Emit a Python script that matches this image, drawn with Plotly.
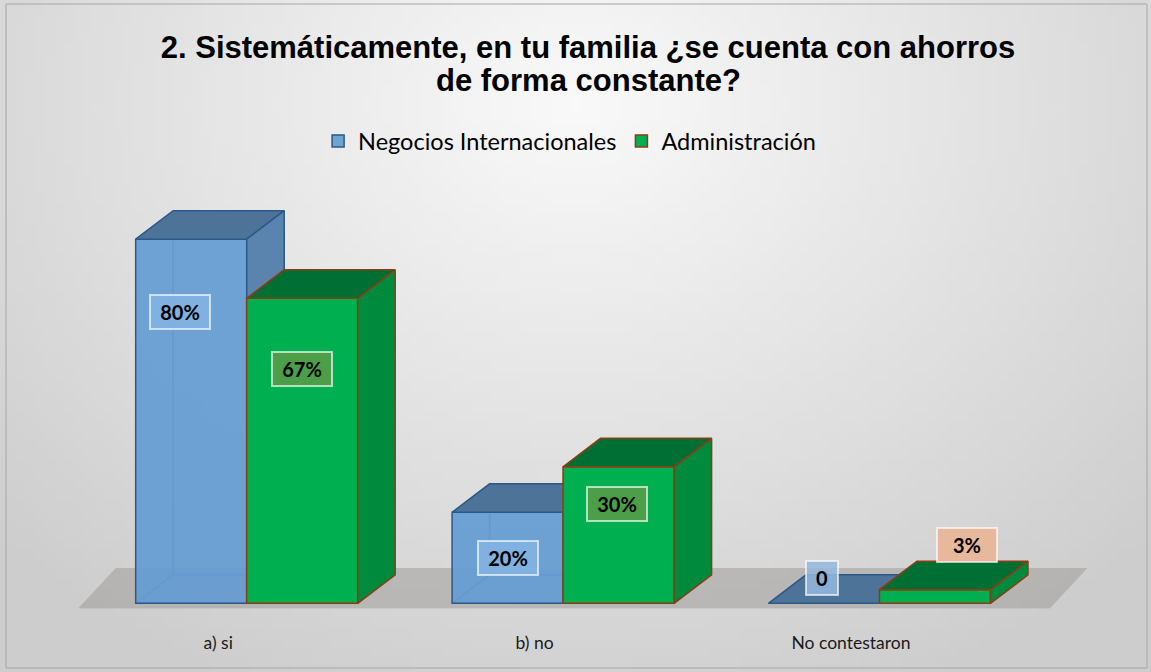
import base64, struct, zlib
import numpy as np
import plotly.graph_objects as go

# ---------------- data ----------------
categories = ["a) si", "b) no", "No contestaron"]
series_names = ["Negocios Internacionales", "Administración"]
negocios = [0.80, 0.20, 0.0]
administracion = [0.67, 0.30, 0.03]
label_text_negocios = ["80%", "20%", "0"]
label_text_admin = ["67%", "30%", "3%"]
title_line1 = "2. Sistemáticamente, en tu familia ¿se cuenta con ahorros"
title_line2 = "de forma constante?"

# ---------------- styling / geometry ----------------
BAR_W = 0.351          # front-face width (x units)
OFFSETS = [-0.0853, 0.2654]   # bar-centre offsets from category position
DX, DY = 0.1185, 0.0626       # depth vector of the 3-D look
X_RANGE = [-0.5, 2.787]
Y_RANGE = [-0.03, 0.93]
ML, MR, MT, MB = 60, 51, 180, 55
W, H = 1151, 672

blue = dict(front="rgba(100,155,210,0.92)", top="#4e7398", side="#5a84ad", edge="#2b5986")
green = dict(front="#00b050", top="#006f33", side="#008a3e", edge="#8b3d12")

# label placement: fraction of bar height (tall bars) and x shifts
lab_frac_neg = [0.80, 0.50, 0.0]
lab_frac_adm = [0.77, 0.73, 0.0]
lab_dx_neg = [-0.035, 0.0, -0.005]
lab_dx_adm = [0.0, -0.005, 0.10]
lab_bg_neg = ["rgba(130,178,226,0.9)", "rgba(130,178,226,0.9)", "rgba(150,185,222,0.85)"]
lab_bg_adm = ["rgba(80,158,72,0.95)", "rgba(80,158,72,0.95)", "rgba(232,182,152,0.95)"]


def bg_png(w=116, h=68):
    yy, xx = np.mgrid[0:h, 0:w]
    u = xx / (w - 1); v = yy / (h - 1)
    d = np.sqrt(((u - 0.5) / 0.75) ** 2 + ((v - 0.15) / 1.05) ** 2)
    c = np.clip(250 - 48 * d, 205, 250).astype(np.uint8)
    raw = b"".join(b"\x00" + bytes(np.stack([c[r], c[r], c[r]], axis=1).flatten()) for r in range(h))
    def chunk(t, data):
        return struct.pack(">I", len(data)) + t + data + struct.pack(">I", zlib.crc32(t + data) & 0xffffffff)
    png = b"\x89PNG\r\n\x1a\n" + chunk(b"IHDR", struct.pack(">IIBBBBB", w, h, 8, 2, 0, 0, 0)) \
        + chunk(b"IDAT", zlib.compress(raw, 9)) + chunk(b"IEND", b"")
    return "data:image/png;base64," + base64.b64encode(png).decode()


PW, PH = W - ML - MR, H - MT - MB
def px2paper_x(px):
    return (px - ML) / PW
def px2paper_y(py):
    return (H - MB - py) / PH


fig = go.Figure()
xs = np.arange(len(categories))


def faces(values, off, col, xa, ya):
    for i, v in enumerate(values):
        x0 = xs[i] + off - BAR_W / 2
        x1 = x0 + BAR_W
        fig.add_trace(go.Scatter(
            x=[x0, x1, x1 + DX, x0 + DX, x0], y=[v, v, v + DY, v + DY, v],
            fill="toself", fillcolor=col["top"], mode="lines",
            line=dict(color=col["edge"], width=1.5), showlegend=False,
            hoverinfo="skip", xaxis=xa, yaxis=ya))
        if v > 0:
            fig.add_trace(go.Scatter(
                x=[x1, x1 + DX, x1 + DX, x1, x1], y=[0, DY, v + DY, v, 0],
                fill="toself", fillcolor=col["side"], mode="lines",
                line=dict(color=col["edge"], width=1.5), showlegend=False,
                hoverinfo="skip", xaxis=xa, yaxis=ya))


# layer 0: hidden back edges of the translucent blue bars
for i, v in enumerate(negocios):
    if v <= 0:
        continue
    x0 = xs[i] + OFFSETS[0] - BAR_W / 2
    fig.add_trace(go.Scatter(
        x=[x0, x0 + DX, x0 + DX, None, x0 + DX, x0 + BAR_W + DX],
        y=[0, DY, v + DY, None, DY, DY], mode="lines",
        line=dict(color="rgba(60,120,190,0.9)", width=1.5),
        showlegend=False, hoverinfo="skip", xaxis="x", yaxis="y"))

# layer 1: blue bars
fig.add_trace(go.Bar(
    x=xs + OFFSETS[0], y=negocios, width=BAR_W, name=series_names[0],
    marker=dict(color=blue["front"], line=dict(color=blue["edge"], width=1.5)),
    xaxis="x2", yaxis="y2", hoverinfo="skip"))
faces(negocios, OFFSETS[0], blue, "x2", "y2")

# layer 2: green bars
fig.add_trace(go.Bar(
    x=xs + OFFSETS[1], y=administracion, width=BAR_W, name=series_names[1],
    marker=dict(color=green["front"], line=dict(color=green["edge"], width=1.5)),
    xaxis="x3", yaxis="y3", hoverinfo="skip"))
faces(administracion, OFFSETS[1], green, "x3", "y3")

# data labels
ann = []
for vals, texts, fr, ldx, bgs, off in [
    (negocios, label_text_negocios, lab_frac_neg, lab_dx_neg, lab_bg_neg, OFFSETS[0]),
    (administracion, label_text_admin, lab_frac_adm, lab_dx_adm, lab_bg_adm, OFFSETS[1])]:
    for i, v in enumerate(vals):
        if v > 0.05:
            y = v * fr[i]
        elif v > 0:
            y = v + DY + 0.035
        else:
            y = DY * 0.88
        x = xs[i] + off + ldx[i]
        wbox = 50 if len(texts[i]) > 1 else 22
        ann.append(dict(x=x, y=y, xref="x", yref="y", text="<b>%s</b>" % texts[i],
                        showarrow=False, font=dict(family="Lato", size=20, color="#000"),
                        bgcolor=bgs[i], bordercolor="rgba(255,255,255,0.65)",
                        borderwidth=2, borderpad=4, width=wbox, height=24))

# second title line
ann.append(dict(x=0.511, y=1 - 80 / H, xref="paper", yref="container" if False else "paper",
                text="<b>%s</b>" % title_line2, showarrow=False,
                font=dict(family="Liberation Sans", size=31, color="#000")))
ann[-1]["y"] = px2paper_y(80)
ann[-1]["x"] = px2paper_x(588)
ann[-1]["yanchor"] = "middle"

# floor
n = len(categories)
floor_l = -0.442
floor_r = n - 1 + 0.629
fig.add_shape(type="path", xref="x", yref="y", layer="below",
              path=f"M {floor_l},-0.011 L {floor_r},-0.011 L {floor_r + DX},{DY + 0.015} "
                   f"L {floor_l + DX},{DY + 0.015} Z",
              fillcolor="rgba(150,145,145,0.45)", line=dict(width=0))

# outer border
fig.add_shape(type="rect", xref="paper", yref="paper",
              x0=px2paper_x(6), x1=px2paper_x(1147), y0=px2paper_y(668), y1=px2paper_y(4),
              line=dict(color="#a6a6a6", width=1), layer="above")

axis_common = dict(range=X_RANGE, showgrid=False, zeroline=False, showline=False)
yaxis_common = dict(range=Y_RANGE, showgrid=False, zeroline=False, showline=False,
                    showticklabels=False, ticks="")

fig.update_layout(
    width=W, height=H,
    margin=dict(l=ML, r=MR, t=MT, b=MB),
    paper_bgcolor="rgba(0,0,0,0)", plot_bgcolor="rgba(0,0,0,0)",
    barmode="overlay",
    title=dict(text="<b>%s</b>" % title_line1,
               x=588 / W, xanchor="center", y=1 - 47 / H, yanchor="middle",
               font=dict(family="Liberation Sans", size=31, color="#000")),
    legend=dict(orientation="h", x=0.49, xanchor="center", y=1.089, yanchor="middle",
                font=dict(family="Lato", size=23.5, color="#000"), bgcolor="rgba(0,0,0,0)",
                itemwidth=30, traceorder="normal"),
    xaxis=dict(**axis_common, tickvals=list(xs), ticktext=categories,
               tickfont=dict(family="Lato", size=17.5, color="#1a1a1a"),
               ticks="outside", ticklen=10, tickcolor="rgba(0,0,0,0)"),
    yaxis=yaxis_common,
    xaxis2=dict(**axis_common, overlaying="x", visible=False),
    yaxis2=dict(**yaxis_common, overlaying="y", visible=False),
    xaxis3=dict(**axis_common, overlaying="x", visible=False),
    yaxis3=dict(**yaxis_common, overlaying="y", visible=False),
    annotations=ann,
    images=[dict(source=bg_png(), xref="paper", yref="paper", x=px2paper_x(0), y=px2paper_y(0),
                 sizex=W / PW, sizey=H / PH, sizing="stretch", layer="below",
                 xanchor="left", yanchor="top")],
    showlegend=True,
)

fig.write_html("out.html", post_script="document.body.style.margin='0';",
               config={"displayModeBar": False})
